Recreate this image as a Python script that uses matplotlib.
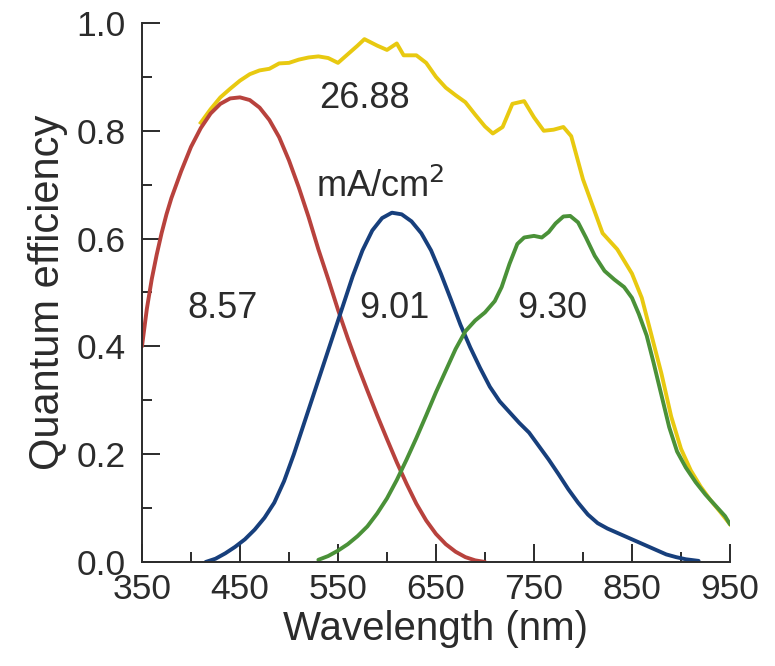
import matplotlib
matplotlib.use("Agg")
import matplotlib.pyplot as plt
import numpy as np

# curves (wavelength nm, quantum efficiency)
red_nm = [350, 355, 360, 365, 370, 375, 380, 385, 390, 400, 410, 420, 430, 440, 450, 460,
          470, 480, 490, 500, 510, 520, 530, 540, 550, 560, 570, 580, 590, 600, 610, 620,
          630, 640, 650, 660, 670, 680, 690, 700]
red_qe = [0.40, 0.47, 0.525, 0.57, 0.61, 0.645, 0.675, 0.70, 0.725, 0.77, 0.805, 0.832, 0.85,
          0.86, 0.862, 0.857, 0.843, 0.82, 0.788, 0.745, 0.695, 0.64, 0.58, 0.525, 0.468,
          0.415, 0.365, 0.318, 0.272, 0.228, 0.185, 0.145, 0.108, 0.077, 0.052, 0.033,
          0.019, 0.009, 0.003, 0.0]

blue_nm = [415, 425, 435, 445, 455, 465, 475, 485, 495, 505, 515, 525, 535, 545, 555, 565,
           575, 585, 595, 605, 615, 625, 635, 645, 655, 665, 675, 685, 695, 705, 715, 725,
           735, 745, 755, 765, 775, 785, 795, 805, 815, 825, 835, 845, 855, 865, 875, 885,
           895, 905, 918]
blue_qe = [0.0, 0.006, 0.016, 0.028, 0.042, 0.06, 0.082, 0.11, 0.15, 0.20, 0.255, 0.31,
           0.365, 0.42, 0.475, 0.53, 0.578, 0.615, 0.638, 0.648, 0.645, 0.632, 0.61, 0.578,
           0.535, 0.488, 0.44, 0.398, 0.36, 0.325, 0.298, 0.278, 0.258, 0.24, 0.215, 0.19,
           0.163, 0.135, 0.11, 0.088, 0.072, 0.062, 0.054, 0.046, 0.038, 0.03, 0.022, 0.014,
           0.009, 0.005, 0.002]

green_nm = [530, 540, 550, 560, 570, 580, 590, 600, 610, 620, 630, 640, 650, 660, 670, 680,
            690, 700, 710, 717, 725, 733, 740, 750, 758, 765, 772, 780, 787, 795, 803, 812,
            822, 832, 842, 850, 857, 865, 872, 880, 888, 896, 905, 915, 925, 935, 945, 950]
green_qe = [0.004, 0.011, 0.021, 0.033, 0.048, 0.066, 0.09, 0.118, 0.152, 0.19, 0.23, 0.272,
            0.315, 0.355, 0.395, 0.428, 0.448, 0.463, 0.484, 0.51, 0.553, 0.59, 0.602, 0.605,
            0.602, 0.612, 0.628, 0.641, 0.642, 0.63, 0.602, 0.568, 0.54, 0.524, 0.51, 0.49,
            0.46, 0.42, 0.37, 0.31, 0.25, 0.205, 0.175, 0.148, 0.125, 0.105, 0.085, 0.07]

total_nm = [410, 420, 430, 440, 450, 460, 470, 480, 490, 500, 510, 520, 530, 540, 550, 560,
            570, 577, 590, 600, 610, 617, 630, 640, 650, 660, 670, 680, 690, 700, 708, 718,
            728, 740, 750, 760, 770, 780, 788, 800, 810, 820, 835, 850, 860, 870, 880, 890,
            900, 910, 920, 930, 940, 950]
total_qe = [0.815, 0.84, 0.862, 0.878, 0.893, 0.905, 0.912, 0.915, 0.925, 0.926, 0.932, 0.936,
            0.938, 0.935, 0.926, 0.942, 0.958, 0.97, 0.958, 0.95, 0.962, 0.94, 0.94, 0.926,
            0.90, 0.88, 0.866, 0.853, 0.83, 0.808, 0.795, 0.807, 0.85, 0.855, 0.825, 0.80,
            0.802, 0.807, 0.79, 0.71, 0.66, 0.61, 0.58, 0.535, 0.49, 0.42, 0.35, 0.27, 0.21,
            0.17, 0.14, 0.115, 0.093, 0.07]

# current densities written on the chart
labels = ["26.88", "mA/cm$^2$", "8.57", "9.01", "9.30"]
label_x = [577, 593, 432, 608, 769]
label_y = [0.86, 0.695, 0.47, 0.47, 0.47]

plt.rcParams['font.family'] = ['Liberation Sans', 'DejaVu Sans']
ink = '#2b2b2b'

fig = plt.figure(figsize=(7.75, 6.66), dpi=100)
ax = fig.add_axes([0.1832, 0.1562, 0.7587, 0.8093])

lw = 2.8
ax.plot(total_nm, total_qe, color='#e8c910', lw=lw, solid_joinstyle='round')
ax.plot(red_nm, red_qe, color='#b8423d', lw=lw, solid_capstyle='round', solid_joinstyle='round')
ax.plot(blue_nm, blue_qe, color='#173f7c', lw=lw, solid_capstyle='round', solid_joinstyle='round')
ax.plot(green_nm, green_qe, color='#4a9138', lw=lw, solid_capstyle='round', solid_joinstyle='round')

for t, x, y in zip(labels, label_x, label_y):
    ax.text(x, y, t, fontsize=26, color=ink, ha='center', va='center')

ax.set_xlim(350, 950)
ax.set_ylim(0, 1.0)
ax.set_xticks(np.arange(350, 951, 100))
ax.set_xticks(np.arange(400, 901, 100), minor=True)
ax.set_yticks(np.arange(0, 1.01, 0.2))
ax.set_yticks(np.arange(0.1, 1.0, 0.2), minor=True)
ax.set_yticklabels(['0.0', '0.2', '0.4', '0.6', '0.8', '1.0'])

ax.tick_params(which='major', direction='in', length=13, width=1.4, color=ink,
               labelsize=25.5, labelcolor=ink)
ax.tick_params(which='minor', direction='in', length=7, width=1.4, color=ink)
ax.tick_params(axis='y', which='major', pad=12)
ax.tick_params(axis='x', which='major', pad=8)

for s in ['top', 'right']:
    ax.spines[s].set_visible(False)
for s in ['left', 'bottom']:
    ax.spines[s].set_linewidth(1.4)
    ax.spines[s].set_color(ink)

ax.set_xlabel('Wavelength (nm)', fontsize=29, color=ink, labelpad=3)
ax.set_ylabel('Quantum efficiency', fontsize=30, color=ink, labelpad=6)

fig.savefig('out.png', dpi=100)
